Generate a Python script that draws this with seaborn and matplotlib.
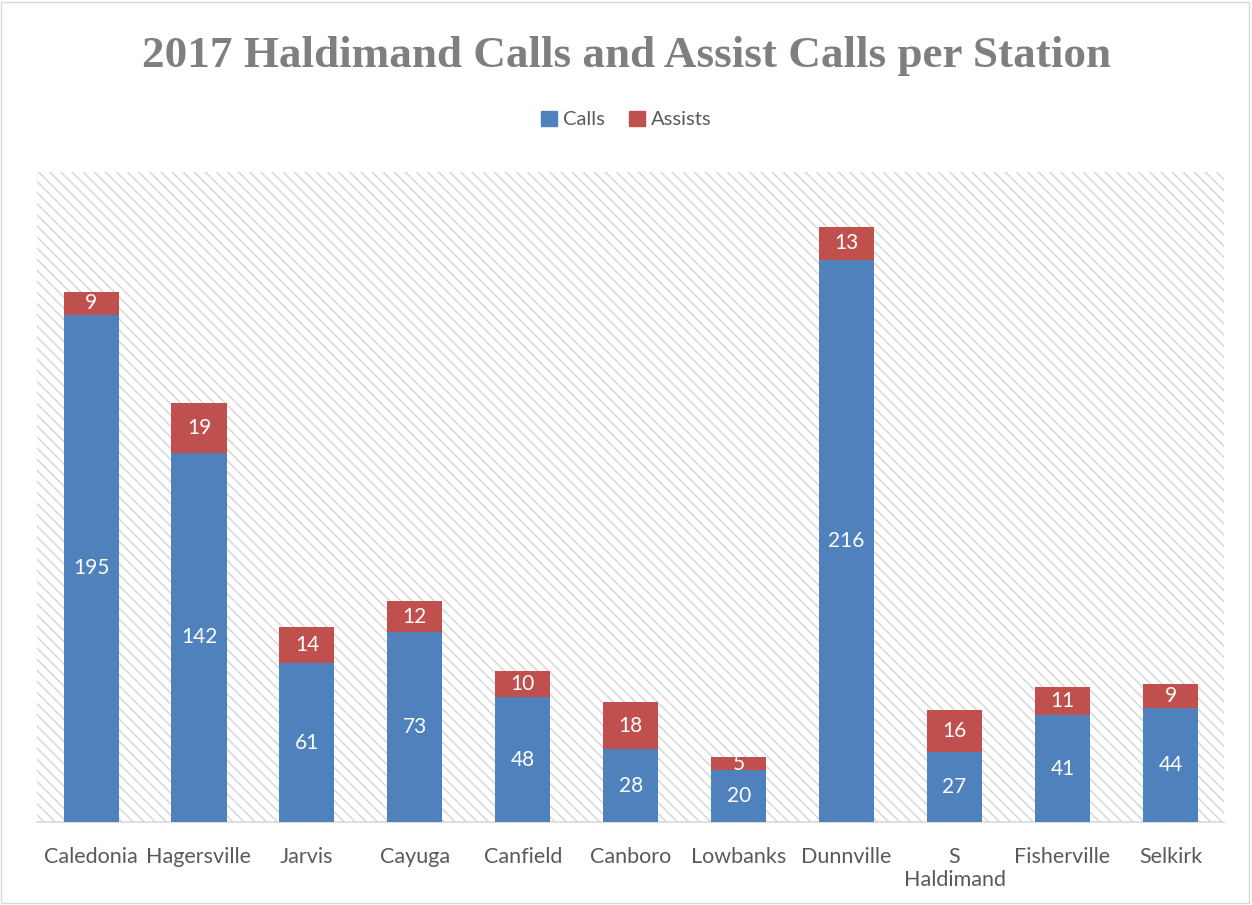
import pandas as pd
import matplotlib.pyplot as plt
import seaborn as sns
from matplotlib.patches import Rectangle

# data
stations = ['Caledonia', 'Hagersville', 'Jarvis', 'Cayuga', 'Canfield', 'Canboro',
            'Lowbanks', 'Dunnville', 'S\nHaldimand', 'Fisherville', 'Selkirk']
calls = [195, 142, 61, 73, 48, 28, 20, 216, 27, 41, 44]
assists = [9, 19, 14, 12, 10, 18, 5, 13, 16, 11, 9]

df = pd.DataFrame({'Station': stations, 'Calls': calls, 'Assists': assists})
df['Total'] = df['Calls'] + df['Assists']

blue = '#4F81BD'
red = '#C0504D'
grey_text = '#595959'

sns.set_style('white')
plt.rcParams['font.family'] = ['Lato', 'DejaVu Sans']
plt.rcParams['hatch.color'] = '#d4d4d4'
plt.rcParams['hatch.linewidth'] = 1.0

fig = plt.figure(figsize=(12.52, 9.05), dpi=100)
ax = fig.add_axes([0.0296, 0.0917, 0.9484, 0.7183])

# hatched plot area like the Excel original
ax.patch.set_facecolor('white')
ax.patch.set_hatch('\\\\\\')
ax.patch.set_edgecolor('#d4d4d4')
ax.patch.set_linewidth(0)

# stacked bars: total in red, calls on top of it in blue
sns.barplot(data=df, x='Station', y='Total', color=red, width=0.51,
            saturation=1, linewidth=0, ax=ax, zorder=2)
sns.barplot(data=df, x='Station', y='Calls', color=blue, width=0.51,
            saturation=1, linewidth=0, ax=ax, zorder=3)

red_bars = ax.containers[0]
blue_bars = ax.containers[1]
for rb, bb, a, c in zip(red_bars, blue_bars, assists, calls):
    ax.text(rb.get_x() + rb.get_width() / 2, c + a / 2, str(a), ha='center', va='center',
            color='white', fontsize=15, zorder=5)
    ax.text(bb.get_x() + bb.get_width() / 2, c / 2, str(c), ha='center', va='center',
            color='white', fontsize=15, zorder=5)

ax.set_ylim(0, 250)
ax.set_xlim(-0.5, len(stations) - 0.5)
ax.set_yticks([])
ax.set_xlabel('')
ax.set_ylabel('')
ax.tick_params(axis='x', length=0, labelsize=15.5, labelcolor=grey_text, pad=18)
for s in ['top', 'left', 'right']:
    ax.spines[s].set_visible(False)
ax.spines['bottom'].set_color('#d9d9d9')
ax.spines['bottom'].set_linewidth(1.2)

fig.text(0.5, 0.938, '2017 Haldimand Calls and Assist Calls per Station', ha='center',
         va='center', fontsize=32.5, fontweight='bold', color='#7f7f7f',
         family=['Liberation Serif', 'DejaVu Serif'])

handles = [Rectangle((0, 0), 1, 1, color=blue), Rectangle((0, 0), 1, 1, color=red)]
leg = fig.legend(handles, ['Calls', 'Assists'], loc='center', bbox_to_anchor=(0.5, 0.868),
                 ncol=2, frameon=False, fontsize=14.5, handlelength=0.8, handleheight=0.8,
                 handletextpad=0.3, columnspacing=1.2)
for t in leg.get_texts():
    t.set_color(grey_text)

# thin frame around the whole chart
fig.patches.append(Rectangle((0.001, 0.002), 0.997, 0.996, transform=fig.transFigure,
                             fill=False, edgecolor='#d9d9d9', linewidth=1))

plt.savefig('out.png', dpi=100)
